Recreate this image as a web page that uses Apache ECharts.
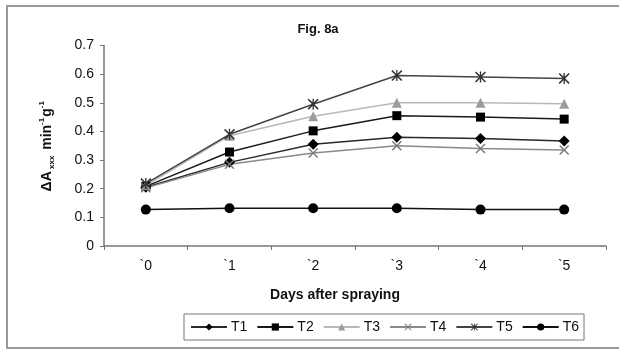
<!DOCTYPE html>
<html>
<head>
<meta charset="utf-8">
<script src="https://cdn.jsdelivr.net/npm/echarts@6/dist/echarts.min.js"></script>
<style>
  html, body { margin: 0; padding: 0; background: #fff; }
  #chart { width: 619px; height: 350px; }
</style>
</head>
<body>
<div id="chart"></div>
<script>
// Days after spraying
const days = ['`0', '`1', '`2', '`3', '`4', '`5'];

// Enzyme activity per treatment (ΔA min-1 g-1)
const t1 = [0.205, 0.292, 0.355, 0.380, 0.375, 0.367];
const t2 = [0.208, 0.328, 0.402, 0.455, 0.450, 0.443];
const t3 = [0.212, 0.385, 0.453, 0.500, 0.500, 0.497];
const t4 = [0.203, 0.285, 0.325, 0.350, 0.340, 0.335];
const t5 = [0.218, 0.390, 0.495, 0.595, 0.590, 0.585];
const t6 = [0.127, 0.132, 0.132, 0.132, 0.127, 0.127];

const seriesNames = ['T1', 'T2', 'T3', 'T4', 'T5', 'T6'];
const yTicks = [0, 0.1, 0.2, 0.3, 0.4, 0.5, 0.6, 0.7];

const FONT = '"Liberation Sans", Arial, sans-serif';

// stroke-like marker shapes built as filled outlines
const crossPath = 'path://M0,1L1,0L5,4L9,0L10,1L6,5L10,9L9,10L5,6L1,10L0,9L4,5Z';
const starPath = 'path://M0,1L1,0L5,4L9,0L10,1L6,5L10,9L9,10L5,6L1,10L0,9L4,5Z M4.4,0L5.6,0L5.6,10L4.4,10Z';

function mk(name, data, lineColor, markColor, symbol, size) {
  return {
    name: name,
    type: 'line',
    data: data,
    symbol: symbol,
    symbolSize: size,
    showAllSymbol: true,
    lineStyle: { color: lineColor, width: 1.5 },
    itemStyle: { color: markColor, borderWidth: 0 },
    emphasis: { disabled: true },
    z: 3
  };
}

const chart = echarts.init(document.getElementById('chart'), null, { renderer: 'canvas' });

chart.setOption({
  animation: false,
  backgroundColor: '#fff',
  textStyle: { fontFamily: FONT },
  graphic: [{
    type: 'rect',
    shape: { x: 7, y: 6, width: 640, height: 342 },
    style: { fill: 'none', stroke: '#9a9a9a', lineWidth: 2 },
    silent: true
  }],
  title: [{
    text: 'Fig. 8a',
    left: 313,
    top: 18,
    textAlign: 'center',
    textStyle: { fontFamily: FONT, fontSize: 13, fontWeight: 'bold', color: '#111' }
  }, {
    text: 'Days after spraying',
    left: 330,
    top: 283,
    textAlign: 'center',
    textStyle: { fontFamily: FONT, fontSize: 14, fontWeight: 'bold', color: '#111' }
  }],
  legend: {
    data: seriesNames,
    left: 184,
    top: 314,
    width: 410,
    padding: [6, 5, 6, 6],
    itemGap: 9,
    itemWidth: 36,
    itemHeight: 9,
    borderColor: '#777',
    borderWidth: 1,
    textStyle: { fontFamily: FONT, fontSize: 14, color: '#111', padding: [0, 0, 0, -1] }
  },
  grid: { left: 104, right: 13, top: 45.5, bottom: 104, containLabel: false },
  xAxis: {
    type: 'category',
    data: days,
    boundaryGap: true,
    axisLine: { lineStyle: { color: '#777', width: 1.5 } },
    axisTick: { show: true, length: 4, lineStyle: { color: '#777' } },
    axisLabel: { color: '#111', fontSize: 14, fontFamily: FONT, margin: 13 },
    splitLine: { show: false }
  },
  yAxis: {
    type: 'value',
    min: 0,
    max: 0.7,
    interval: 0.1,
    axisLine: { show: true, lineStyle: { color: '#777', width: 1.5 } },
    axisTick: { show: true, length: 4, lineStyle: { color: '#777' } },
    axisLabel: {
      color: '#111', fontSize: 14, fontFamily: FONT, margin: 10,
      formatter: function (v) {
        const t = yTicks.find(function (x) { return Math.abs(x - v) < 1e-9; });
        return t === 0 ? '0' : (t !== undefined ? t.toFixed(1) : '');
      }
    },
    splitLine: { show: false },
    name: '{a|ΔA}{s| xxx}{a| min}{p|-1}{a|g}{p|-1}',
    nameLocation: 'middle',
    nameRotate: 90,
    nameGap: 48,
    nameTextStyle: {
      rich: {
        a: { fontFamily: FONT, fontSize: 14, fontWeight: 'bold', color: '#111', lineHeight: 18, verticalAlign: 'middle' },
        s: { fontFamily: FONT, fontSize: 8, fontWeight: 'bold', color: '#111', lineHeight: 18, verticalAlign: 'bottom', padding: [6, 2, 0, 0] },
        p: { fontFamily: FONT, fontSize: 8, fontWeight: 'bold', color: '#111', lineHeight: 18, verticalAlign: 'top', padding: [0, 1, 6, 0] }
      }
    }
  },
  series: [
    mk('T1', t1, '#2a2a2a', '#000', 'diamond', 11),
    mk('T2', t2, '#1a1a1a', '#000', 'rect', 9),
    mk('T3', t3, '#b8b8b8', '#9c9c9c', 'triangle', 10),
    mk('T4', t4, '#8a8a8a', '#7a7a7a', crossPath, 10),
    mk('T5', t5, '#444', '#333', starPath, 11),
    mk('T6', t6, '#111', '#000', 'circle', 10)
  ]
});
</script>
</body>
</html>
